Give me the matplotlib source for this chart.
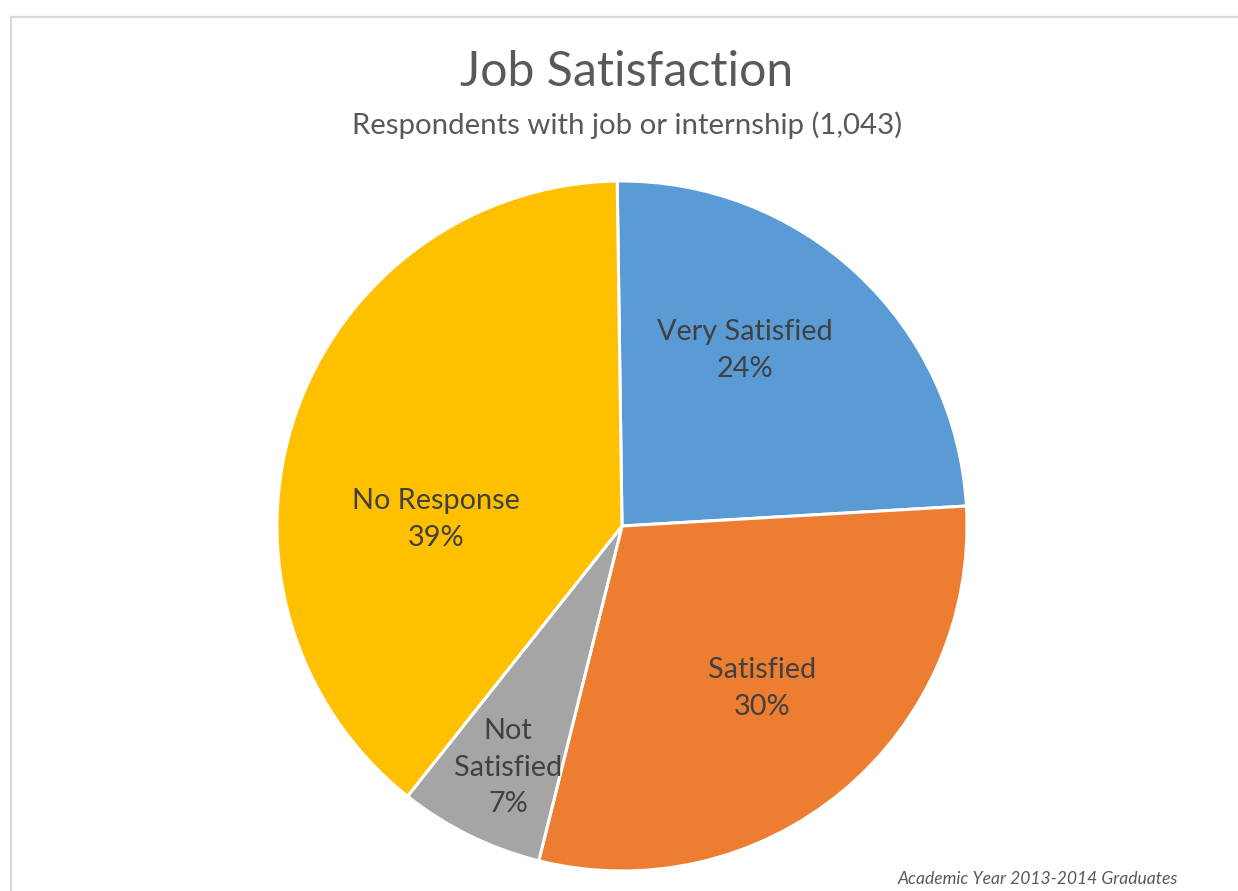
import matplotlib
matplotlib.use("Agg")
import matplotlib.pyplot as plt
from matplotlib.patches import Rectangle

categories = ["Very Satisfied", "Satisfied", "Not\nSatisfied", "No Response"]
values = [24.3, 29.8, 6.8, 39.1]
colors = ["#5B9BD5", "#ED7D31", "#A5A5A5", "#FFC000"]
title = "Job Satisfaction"
subtitle = "Respondents with job or internship (1,043)"
footnote = "Academic Year 2013-2014 Graduates"

plt.rcParams['font.family'] = ['Lato', 'DejaVu Sans']

W, H = 1238, 891
fig = plt.figure(figsize=(W / 100, H / 100), dpi=100)

# chart border
fig.add_artist(Rectangle((11 / W, -0.1), 1.2, 1 - 17 / H + 0.1, transform=fig.transFigure,
                         fill=False, edgecolor="#D9D9D9", linewidth=1.6))

cx, cy, r = 622, 526, 345
ax = fig.add_axes([(cx - r) / W, 1 - (cy + r) / H, 2 * r / W, 2 * r / H])
total = sum(values)
wedges, _ = ax.pie(values, colors=colors, startangle=90.8, counterclock=False,
                   radius=1, wedgeprops=dict(edgecolor="white", linewidth=2.2))
ax.set_xlim(-1, 1)
ax.set_ylim(-1, 1)
ax.set_aspect("equal")
ax.axis("off")

# label positions (in pie radius units)
label_pos = [(0.357, 0.51), (0.405, -0.47), (-0.33, -0.70), (-0.54, 0.02)]
for (x, y), cat, v in zip(label_pos, categories, values):
    ax.text(x, y, f"{cat}\n{v / total * 100:.0f}%", ha="center", va="center",
            fontsize=20.8, color="#404040", linespacing=1.52)

fig.text(627 / W, 1 - 72 / H, title, ha="center", va="center", fontsize=34.7, color="#595959")
fig.text(627 / W, 1 - 125 / H, subtitle, ha="center", va="center", fontsize=21.2, color="#595959")
fig.text(1178 / W, 1 - 879 / H, footnote, ha="right", va="center", fontsize=12.6,
         color="#595959", style="italic")

fig.savefig("out.png", dpi=100)
